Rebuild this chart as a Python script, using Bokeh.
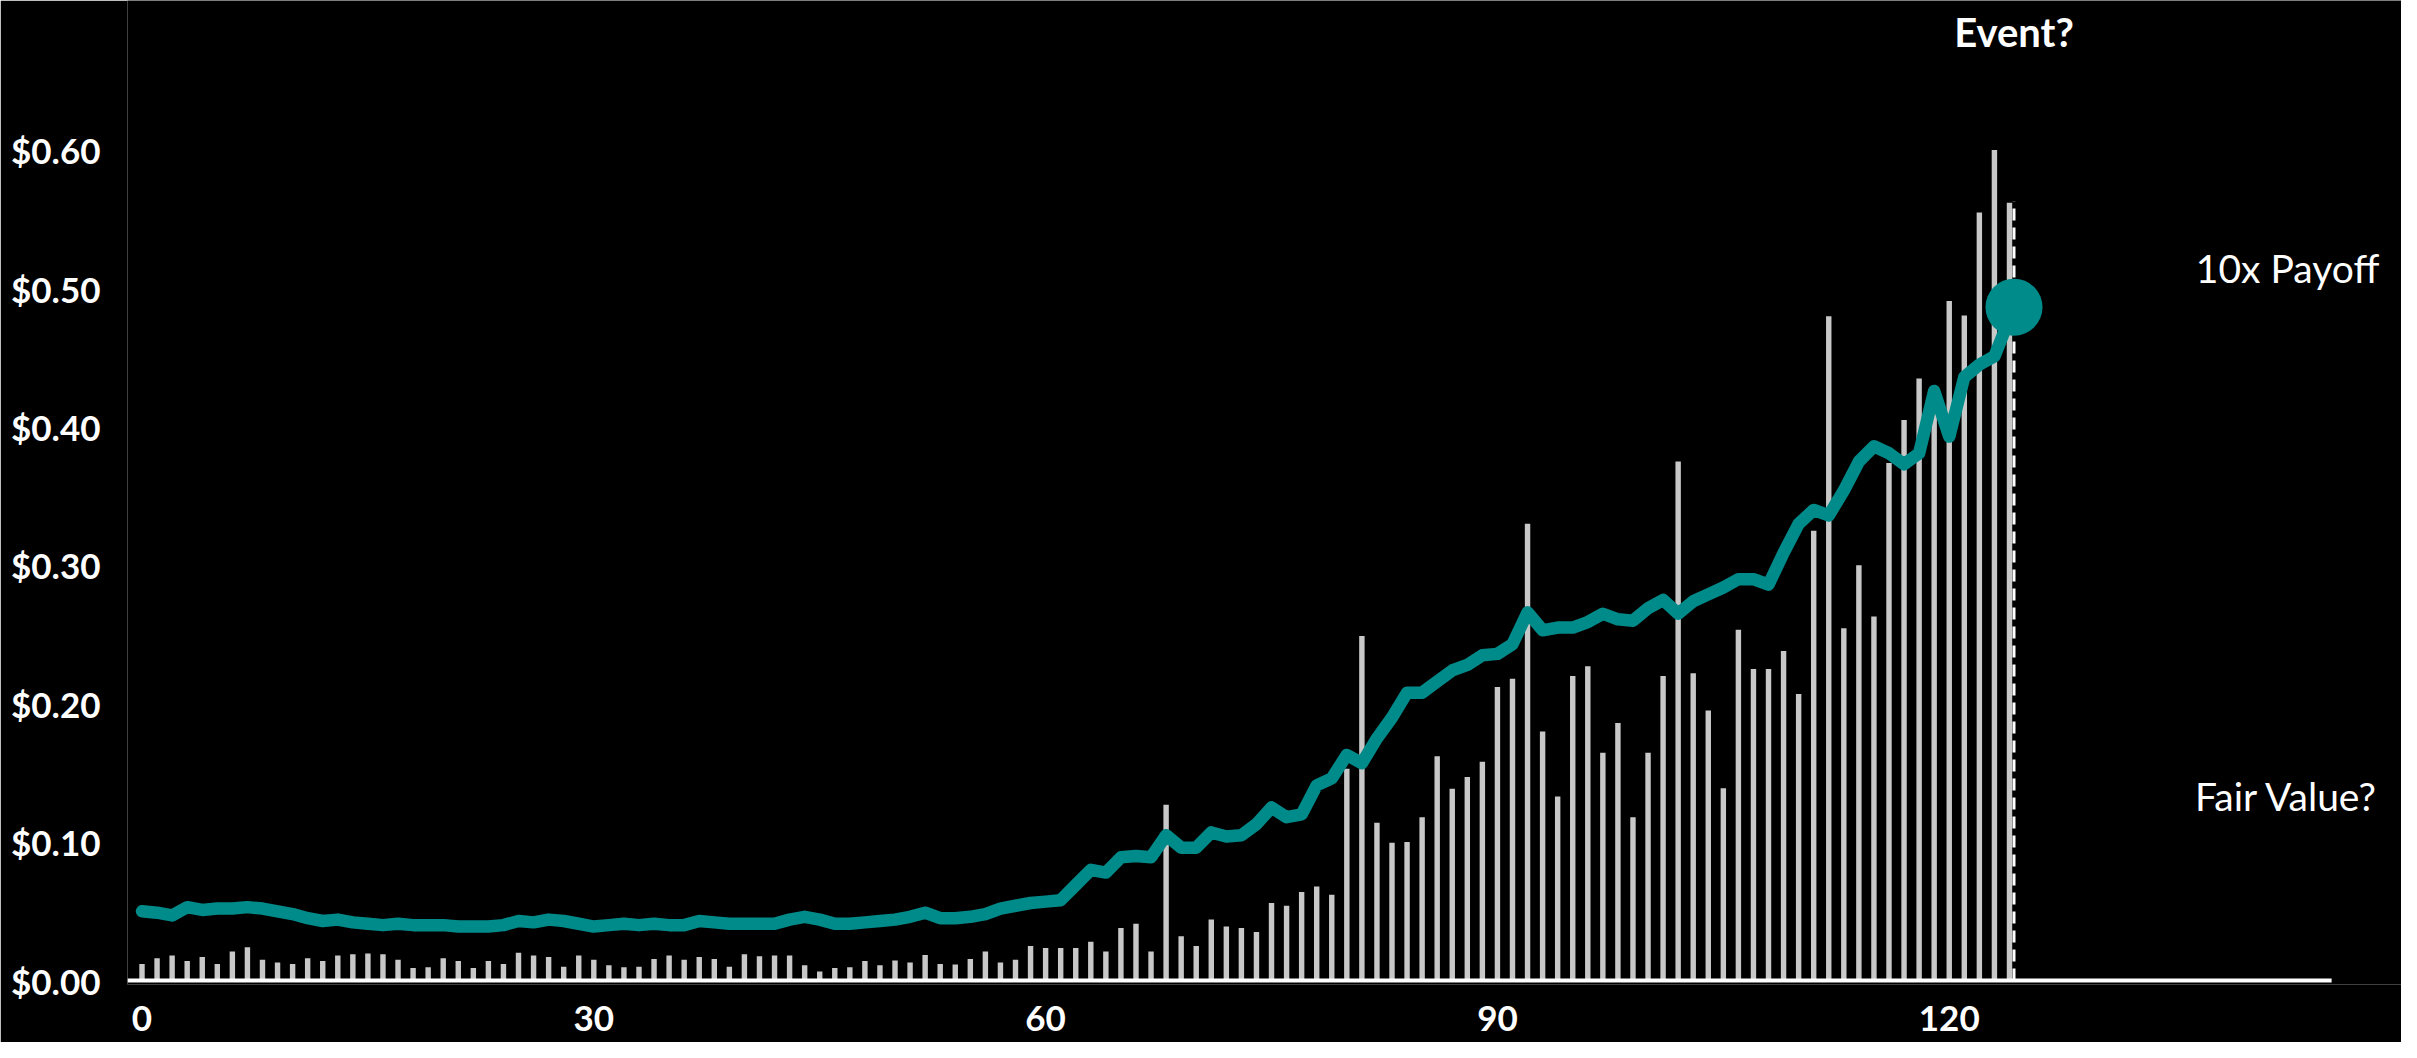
from bokeh.plotting import figure
from bokeh.models import Label, NumeralTickFormatter, FixedTicker, Range1d, ColumnDataSource
from bokeh.embed import file_html
from bokeh.resources import INLINE

# ---------------- data ----------------
bar_values = [
    0.012, 0.016, 0.018, 0.014, 0.017, 0.012, 0.021, 0.024, 0.015, 0.013,
    0.012, 0.016, 0.014, 0.018, 0.019, 0.0195, 0.019, 0.015, 0.009, 0.0095,
    0.016, 0.014, 0.009, 0.014, 0.012, 0.020, 0.018, 0.017, 0.010, 0.018,
    0.015, 0.011, 0.0095, 0.010, 0.0155, 0.018, 0.015, 0.017, 0.0155, 0.010,
    0.019, 0.0175, 0.018, 0.018, 0.011, 0.0065, 0.009, 0.0095, 0.014, 0.011,
    0.0145, 0.013, 0.0185, 0.012, 0.0115, 0.0155, 0.021, 0.013, 0.015, 0.025,
    0.0235, 0.0235, 0.0235, 0.028, 0.021, 0.038, 0.041, 0.021, 0.127, 0.032,
    0.025, 0.044, 0.039, 0.038, 0.035, 0.056, 0.054, 0.064, 0.068, 0.062,
    0.153, 0.249, 0.114, 0.0995, 0.100, 0.118, 0.162, 0.1385, 0.147, 0.158,
    0.212, 0.218, 0.330, 0.180, 0.133, 0.220, 0.227, 0.1645, 0.186, 0.118,
    0.1645, 0.220, 0.375, 0.222, 0.195, 0.139, 0.2535, 0.225, 0.225, 0.238,
    0.207, 0.325, 0.480, 0.2545, 0.300, 0.263, 0.374, 0.405, 0.435, 0.410,
    0.491, 0.4805, 0.555, 0.600, 0.562,
]
bar_x = list(range(len(bar_values)))

line_values = [
    0.050, 0.049, 0.047, 0.053, 0.051, 0.052, 0.052, 0.053, 0.052, 0.050,
    0.048, 0.045, 0.043, 0.044, 0.042, 0.041, 0.040, 0.041, 0.040, 0.040,
    0.040, 0.039, 0.039, 0.039, 0.040, 0.043, 0.042, 0.044, 0.043, 0.041,
    0.039, 0.040, 0.041, 0.040, 0.041, 0.040, 0.040, 0.043, 0.042, 0.041,
    0.041, 0.041, 0.041, 0.044, 0.046, 0.044, 0.041, 0.041, 0.042, 0.043,
    0.044, 0.046, 0.049, 0.045, 0.045, 0.046, 0.048, 0.052, 0.054, 0.056,
    0.057, 0.058, 0.069, 0.080, 0.078, 0.089, 0.090, 0.089, 0.105, 0.096,
    0.096, 0.107, 0.104, 0.105, 0.113, 0.125, 0.118, 0.120, 0.141, 0.146,
    0.163, 0.157, 0.175, 0.190, 0.208, 0.208, 0.216, 0.224, 0.228, 0.235,
    0.236, 0.243, 0.266, 0.253, 0.255, 0.255, 0.259, 0.265, 0.261, 0.260,
    0.269, 0.275, 0.265, 0.274, 0.279, 0.284, 0.290, 0.290, 0.286, 0.309,
    0.330, 0.340, 0.336, 0.354, 0.375, 0.386, 0.381, 0.373, 0.381, 0.426,
    0.393, 0.436, 0.445, 0.451,
]
event_x = 124.3
event_y = 0.4865
event_line_top = 0.563

x_ticks = [0, 30, 60, 90, 120]
y_ticks = [0.0, 0.1, 0.2, 0.3, 0.4, 0.5, 0.6]
axis_start = -0.963
axis_end = 145.39

label_event = "Event?"
label_payoff = "10x Payoff"
label_fair = "Fair Value?"

line_x = list(range(len(line_values))) + [event_x]
line_y = line_values + [event_y]

# ---------------- figure ----------------
TEAL = "#008B8B"
BAR = "#C8C8C8"
FONT = "Lato"

p = figure(width=2401, height=1042, output_backend="svg", toolbar_location=None,
           x_range=Range1d(axis_start, 150.03), y_range=Range1d(-0.00289, 0.7081),
           min_border_left=127, min_border_right=0, min_border_top=0,
           min_border_bottom=58)

p.background_fill_color = "black"
p.border_fill_color = "black"
p.outline_line_color = None
p.xgrid.visible = False
p.ygrid.visible = False

bars = ColumnDataSource(dict(x=bar_x, top=bar_values))
p.vbar(x="x", top="top", bottom=0, width=0.36, source=bars,
       fill_color=BAR, line_color=None)

p.segment(x0=[event_x], y0=[0], x1=[event_x], y1=[event_line_top],
          line_color="white", line_width=3, line_dash="12 7")

# x axis baseline (ends before the right-hand notes)
p.segment(x0=[axis_start], y0=[0], x1=[axis_end], y1=[0],
          line_color="white", line_width=4)

p.line(line_x, line_y, line_color=TEAL, line_width=12.5,
       line_join="round", line_cap="round")
p.scatter([event_x], [event_y], size=57, marker="circle",
          fill_color=TEAL, line_color=None)

# axes
xa = p.xaxis[0]
xa.ticker = FixedTicker(ticks=x_ticks)
xa.axis_line_color = None
xa.major_tick_line_color = None
xa.minor_tick_line_color = None
xa.major_tick_out = 0
xa.major_tick_in = 0
xa.major_label_standoff = 21
xa.major_label_text_color = "white"
xa.major_label_text_font = FONT
xa.major_label_text_font_style = "bold"
xa.major_label_text_font_size = "35px"

ya = p.yaxis[0]
ya.ticker = FixedTicker(ticks=y_ticks)
ya.formatter = NumeralTickFormatter(format="$0.00")
ya.axis_line_color = None
ya.major_tick_line_color = None
ya.minor_tick_line_color = None
ya.major_tick_out = 0
ya.major_tick_in = 0
ya.major_label_standoff = 27
ya.major_label_text_color = "white"
ya.major_label_text_font = FONT
ya.major_label_text_font_style = "bold"
ya.major_label_text_font_size = "35px"

# annotations
p.add_layout(Label(x=event_x, y=0.6855, text=label_event, text_align="center",
                   text_baseline="alphabetic", text_color="white", text_font=FONT,
                   text_font_style="bold", text_font_size="40px"))
p.add_layout(Label(x=142.47, y=0.515, text=label_payoff, text_align="center",
                   text_baseline="alphabetic", text_color="white", text_font=FONT,
                   text_font_size="39px"))
p.add_layout(Label(x=142.4, y=0.1335, text=label_fair, text_align="center",
                   text_baseline="alphabetic", text_color="white", text_font=FONT,
                   text_font_size="39px"))

open("out.html", "w").write(file_html(p, INLINE))
